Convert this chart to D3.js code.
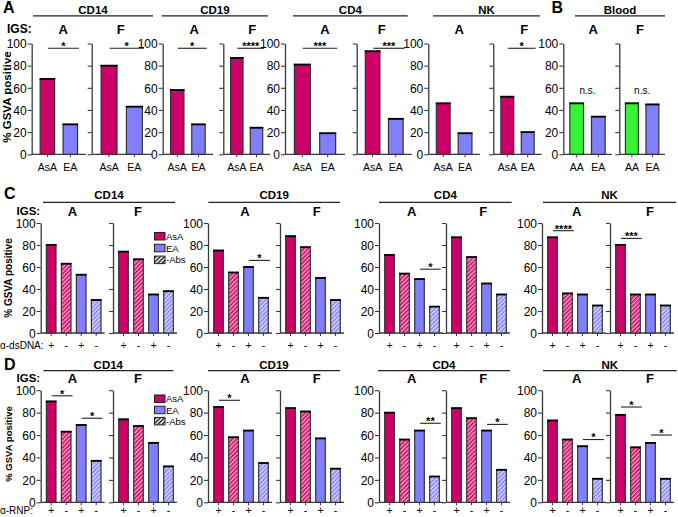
<!DOCTYPE html>
<html><head><meta charset="utf-8">
<script src="https://cdn.jsdelivr.net/npm/d3@7"></script>
<style>
body{margin:0;background:#fff}
svg text{font-family:"Liberation Sans",Arial,sans-serif;fill:#000}
</style>
</head><body>
<svg id="chart" width="678" height="517"></svg>
<script>
// ---------------- DATA ----------------
const cellTypes = ["CD14", "CD19", "CD4", "NK"];
const igsLevels = ["A", "F"];
const groupsA = ["AsA", "EA"];
const groupsB = ["AA", "EA"];
// Panel A, order: CD14-A, CD14-F, CD19-A, CD19-F, CD4-A, CD4-F, NK-A, NK-F
const panelA_AsA = [68, 80, 58, 87, 81, 93, 46, 52];
const panelA_EA  = [27, 43, 27, 24, 19, 32, 19, 20];
const panelA_sig = ["*", "*", "*", "****", "***", "***", "", "*"];
// Panel B (Blood), order: A, F
const panelB_AA = [46, 46];
const panelB_EA = [34, 45];
const panelB_sig = ["n.s.", "n.s."];
// Panels C and D: bars = AsA(+Ab), AsA(-Ab), EA(+Ab), EA(-Ab)
const abSigns = ["+", "-", "+", "-"];
const legendLabels = ["AsA", "EA", "-Abs"];
const panelC_vals = [[80,63,53,30],[74,67,35,38],[75,55,60,32],[88,78,50,30],[71,54,49,24],[87,69,45,35],[87,36,35,25],[80,35,35,25]];
const panelC_sig  = [[],[],[[2,3,"*",66]],[],[[2,3,"*",58]],[],[[0,1,"****",93]],[[0,1,"***",86]]];
const panelD_vals = [[90,63,69,37],[74,68,53,32],[85,58,64,35],[84,81,57,30],[80,56,64,23],[84,75,64,29],[73,56,50,21],[78,49,53,21]];
const panelD_sig  = [[[0,1,"*",95],[2,3,"*",75]],[],[[0,1,"*",91]],[],[[2,3,"**",70.5]],[[2,3,"*",69.5]],[[2,3,"*",56]],[[0,1,"*",85],[2,3,"*",60]]];
const yTicks = [0, 20, 40, 60, 80, 100];

// ---------------- LAYOUT / STYLE ----------------
const COL = {AsA: "#CC0066", EA: "#8080FF", AA: "#33F533"};
const AX = "#3a3a3a";
const LA = {yTop: 43.5, yBot: 154.3,
  axes: [[31.7,86],[91.7,151.7],[162.7,213],[223.3,270],[285,345],[356.7,411.7],[428.3,480],[493.3,541.7]],
  subX: [63.3,120.7,194.3,252.3,325,381.7,459.3,524.3],
  headers: [[33,153],[161.7,268],[293,407.7],[433,540]]};
const LB = {axes: [[563.3,611.7],[619.3,665]], subX: [593.3,640], header: [575,665]};
const LCx0 = [40.7,113,208,280,379,446,542,610];
const LCsubX = [72.5,138,245,316.7,411.7,483.3,576.7,650];
const LC = {yTop: 223, yBot: 333, headerY: 199.3, lineY: 202.3, subY: 215.5, igsY: 214.5, xlabY: 349, letterY: 198.5, legendY: 232.5, legendStep: 11.8, ylabY: 278, ylabSize: 10, rowLabel: "α-dsDNA:",
  headers: [[43,175],[208.3,340],[379,511.7],[543,676]]};
const LD = {yTop: 390.2, yBot: 502.3, headerY: 369, lineY: 370.7, subY: 382.5, igsY: 381.5, xlabY: 514.3, letterY: 370, legendY: 395, legendStep: 11.2, ylabY: 444, ylabSize: 9.5, rowLabel: "α-RNP:",
  headers: [[43.3,173.3],[208,340],[378,510],[543,676.7]]};

const svg = d3.select("#chart");
const defs = svg.append("defs");
function hatch(id, bg, fg) {
  const p = defs.append("pattern").attr("id", id).attr("patternUnits", "userSpaceOnUse")
    .attr("width", 3).attr("height", 3).attr("patternTransform", "rotate(45)");
  p.append("rect").attr("width", 3).attr("height", 3).attr("fill", bg);
  p.append("rect").attr("width", 1.5).attr("height", 3).attr("fill", fg);
}
hatch("hPink", "#F4A6C6", "#CC0066");
hatch("hBlue", "#DADAFF", "#8080FF");
hatch("hGrey", "#ffffff", "#222");
const fillsCD = [COL.AsA, "url(#hPink)", COL.EA, "url(#hBlue)"];

function txt(x, y, s, size, opts = {}) {
  const t = svg.append("text").attr("x", x).attr("y", y).text(s)
    .attr("font-size", size).attr("text-anchor", opts.anchor || "middle");
  if (opts.bold) t.attr("font-weight", "bold");
  if (opts.rotate) t.attr("transform", `rotate(-90,${x},${y})`);
  return t;
}
function hline(x1, x2, y, w = 1.2, c = AX) {
  svg.append("line").attr("x1", x1).attr("x2", x2).attr("y1", y).attr("y2", y).attr("stroke", c).attr("stroke-width", w);
}

function subplot(o) {
  const y = d3.scaleLinear().domain([0, 100]).range([o.yBot, o.yTop]);
  const x = d3.scaleBand().domain(d3.range(o.vals.length)).range(o.band).paddingInner(o.pi).paddingOuter(o.po);
  const g = svg.append("g");
  // y axis
  const ax = d3.axisLeft(y).tickValues(yTicks).tickSize(4).tickSizeOuter(0).tickPadding(1)
    .tickFormat(o.showLabels ? d3.format("d") : () => "");
  const ag = g.append("g").attr("transform", `translate(${o.x0},0)`).call(ax);
  ag.select(".domain").attr("stroke", AX).attr("stroke-width", 1.3);
  ag.selectAll(".tick line").attr("stroke", AX).attr("stroke-width", 1.1);
  ag.selectAll(".tick text").attr("font-size", o.tickSize).attr("font-family", "Liberation Sans, Arial, sans-serif").attr("fill", "#000").attr("dy", "0.36em");
  // x axis
  g.append("line").attr("x1", o.x0).attr("x2", o.x1).attr("y1", y(0)).attr("y2", y(0)).attr("stroke", AX).attr("stroke-width", 1.3);
  // bars
  o.vals.forEach((v, i) => {
    const bx = x(i), bw = x.bandwidth();
    g.append("line").attr("x1", bx + bw / 2).attr("x2", bx + bw / 2).attr("y1", y(0)).attr("y2", y(0) + 3).attr("stroke", AX).attr("stroke-width", 1);
    g.append("rect").attr("x", bx).attr("y", y(v)).attr("width", bw).attr("height", y(0) - y(v))
      .attr("fill", o.fills[i]).attr("stroke", "#333").attr("stroke-width", 1.2);
    g.append("line").attr("x1", bx - 0.6).attr("x2", bx + bw + 0.6).attr("y1", y(v)).attr("y2", y(v)).attr("stroke", "#000").attr("stroke-width", 1.8);
    g.append("text").attr("x", bx + bw / 2).attr("y", o.xlabY).attr("text-anchor", "middle")
      .attr("font-size", o.xlabSize).text(o.xlabels[i]);
  });
  // significance brackets
  (o.sigs || []).forEach(([a, b, lab, v]) => {
    const x1 = x(a) + x.bandwidth() / 2 + 0.5, x2 = x(b) + x.bandwidth() + 1.5;
    const ly = y(v);
    g.append("line").attr("x1", x1).attr("x2", x2).attr("y1", ly).attr("y2", ly).attr("stroke", "#222").attr("stroke-width", 1.1);
    g.append("text").attr("x", (x1 + x2) / 2).attr("y", ly + 1.8).attr("text-anchor", "middle")
      .attr("font-size", 11).attr("font-weight", "bold").text(lab);
  });
  return {x, y};
}

// ---------------- PANEL A ----------------
txt(3, 13, "A", 16, {bold: true, anchor: "start"});
txt(7, 33.3, "IGS:", 12, {bold: true, anchor: "start"});
cellTypes.forEach((ct, k) => {
  const [a, b] = LA.headers[k];
  txt((a + b) / 2, 14, ct, 11.5, {bold: true});
  hline(a, b, 15.8, 1.3, "#222");
});
LA.axes.forEach(([x0, x1], i) => {
  txt(LA.subX[i], 33.5, igsLevels[i % 2], 13, {bold: true});
  subplot({x0, x1, yTop: LA.yTop, yBot: LA.yBot, band: [x0, x1], pi: 0.37, po: 0.37,
    vals: [panelA_AsA[i], panelA_EA[i]], fills: [COL.AsA, COL.EA], showLabels: i % 2 === 0, tickSize: 12,
    xlabels: groupsA, xlabY: 170.5, xlabSize: 10.5, sigs: panelA_sig[i] ? [[0, 1, panelA_sig[i], 95.7]] : []});
});
txt(10.5, 97, "% GSVA positive", 11.5, {bold: true, rotate: true});

// ---------------- PANEL B ----------------
txt(551.5, 13, "B", 16, {bold: true, anchor: "start"});
txt((LB.header[0] + LB.header[1]) / 2, 14, "Blood", 11.5, {bold: true});
hline(LB.header[0], LB.header[1], 15.8, 1.3, "#222");
LB.axes.forEach(([x0, x1], i) => {
  txt(LB.subX[i], 33.5, igsLevels[i], 13, {bold: true});
  const s = subplot({x0, x1, yTop: LA.yTop, yBot: LA.yBot, band: [x0, x1], pi: 0.37, po: 0.3,
    vals: [panelB_AA[i], panelB_EA[i]], fills: [COL.AA, COL.EA], showLabels: i === 0, tickSize: 12,
    xlabels: groupsB, xlabY: 170.5, xlabSize: 10.5, sigs: []});
  const cx = (s.x(0) + s.x(1) + s.x.bandwidth()) / 2;
  txt(cx, 94, panelB_sig[i], 10);
});

// ---------------- PANELS C, D ----------------
function panelCD(L, letter, vals, sigs) {
  txt(4, L.letterY, letter, 16, {bold: true, anchor: "start"});
  txt(16.5, L.igsY, "IGS:", 11.5, {bold: true, anchor: "start"});
  txt(0, L.xlabY, L.rowLabel, 10, {anchor: "start"});
  cellTypes.forEach((ct, k) => {
    const [a, b] = L.headers[k];
    txt((a + b) / 2, L.headerY, ct, 11.5, {bold: true});
    hline(a, b, L.lineY, 1.3, "#222");
  });
  LCx0.forEach((x0, i) => {
    txt(LCsubX[i], L.subY, igsLevels[i % 2], 13, {bold: true});
    subplot({x0, x1: x0 + 64, yTop: L.yTop, yBot: L.yBot, band: [x0 + 3, x0 + 63], pi: 0.36, po: 0.18,
      vals: vals[i], fills: fillsCD, showLabels: i % 2 === 0, tickSize: 12,
      xlabels: abSigns, xlabY: L.xlabY, xlabSize: 10.5, sigs: sigs[i]});
  });
  txt(11.5, L.ylabY, "% GSVA positive", L.ylabSize, {bold: true, rotate: true});
  // legend
  const lf = [COL.AsA, COL.EA, "url(#hGrey)"];
  legendLabels.forEach((lab, j) => {
    const ly = L.legendY + j * L.legendStep;
    svg.append("rect").attr("x", 154.5).attr("y", ly).attr("width", 10.5).attr("height", 7.5)
      .attr("fill", lf[j]).attr("stroke", "#222").attr("stroke-width", 1);
    txt(166, ly + 7.3, lab, 9.5, {anchor: "start"});
  });
}
panelCD(LC, "C", panelC_vals, panelC_sig);
panelCD(LD, "D", panelD_vals, panelD_sig);
</script>
</body></html>
